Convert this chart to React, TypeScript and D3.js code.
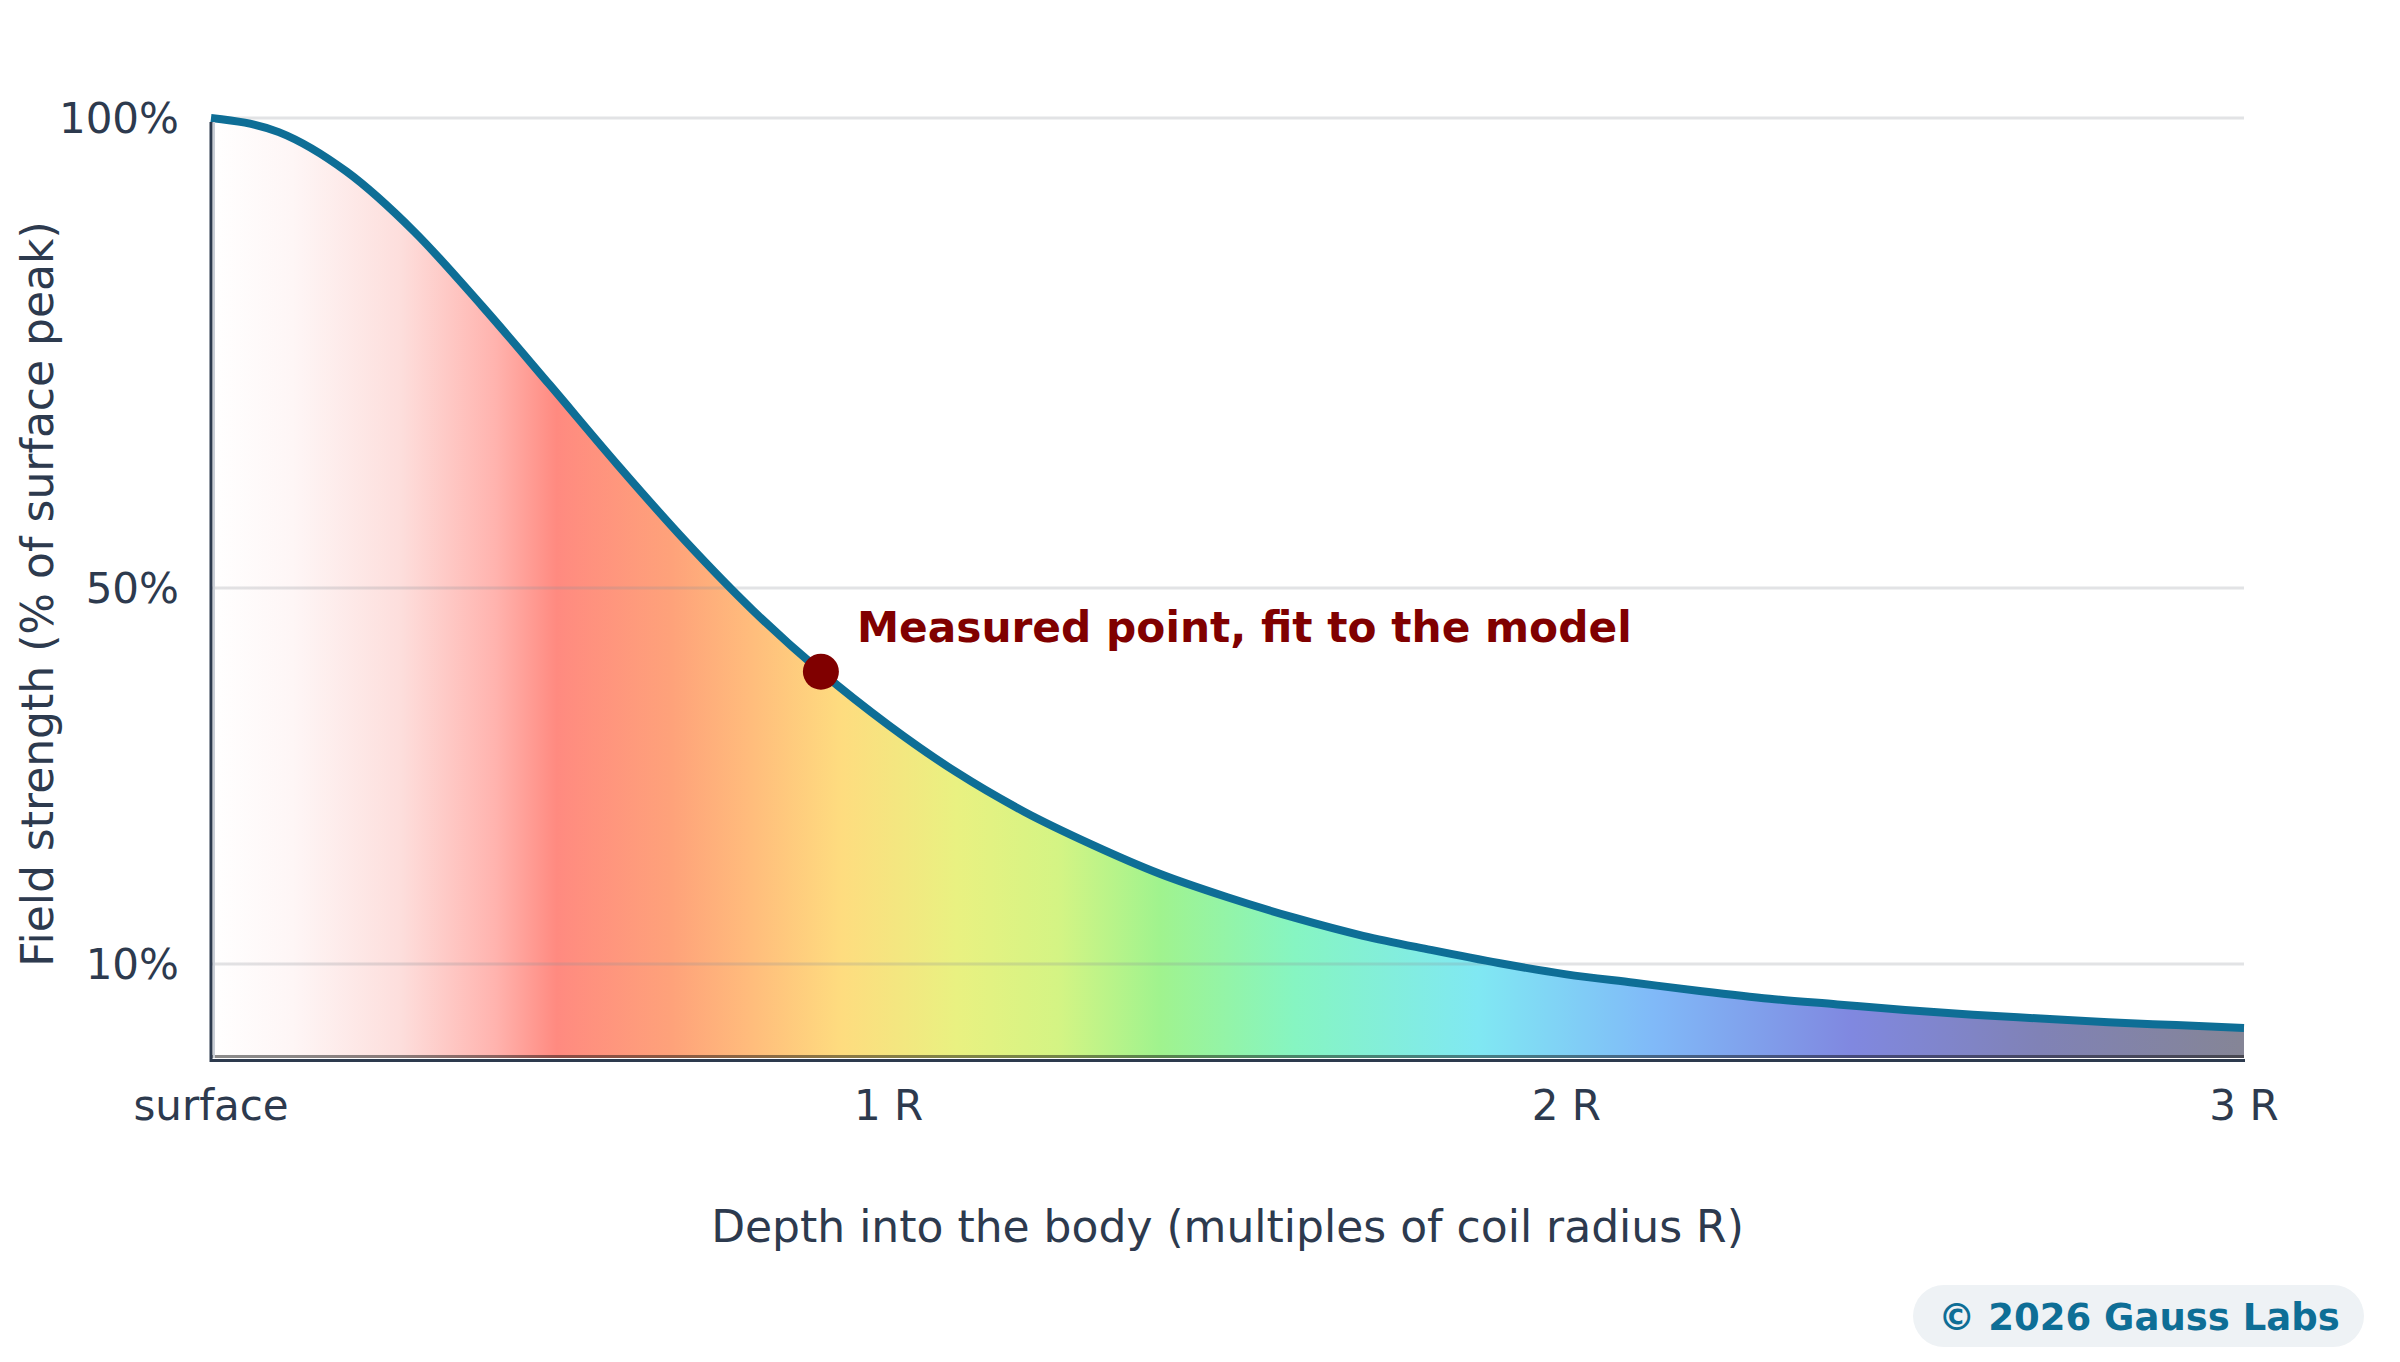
import { scaleLinear, area, line, curveMonotoneX } from 'd3';

// depth in multiples of coil radius R, field in % of surface peak
const depthR = [
  0, 0.1, 0.2, 0.3, 0.4, 0.5, 0.6, 0.7, 0.8, 0.9, 1.0, 1.1, 1.2, 1.3, 1.4, 1.5,
  1.6, 1.7, 1.8, 1.9, 2.0, 2.1, 2.2, 2.3, 2.4, 2.5, 2.6, 2.7, 2.8, 2.9, 3.0,
];
const fieldPct = [
  100, 98.5, 94.3, 87.9, 80.0, 71.6, 63.1, 55.0, 47.6, 41.1, 35.4, 30.4, 26.2,
  22.7, 19.6, 17.1, 14.9, 13.0, 11.5, 10.1, 8.9, 8.0, 7.1, 6.3, 5.7, 5.1, 4.6,
  4.2, 3.8, 3.5, 3.2,
];

const measuredDepth = [0.9];
const measuredPct = [41.1];

const xTicks = [0, 1, 2, 3];
const xTickLabels = ['surface', '1 R', '2 R', '3 R'];
const yTicks = [10, 50, 100];
const yTickLabels = ['10%', '50%', '100%'];

const WIDTH = 2400;
const HEIGHT = 1362;
const TEXT = '#2d3a4e';
const LINE = '#0e6e96';
const FONT = '"DejaVu Sans", Verdana, sans-serif';

// spectrum of the fill, keyed by depth
const spectrum: [number, string][] = [
  [0, '#ffffff'],
  [0.12, '#fef6f6'],
  [0.28, '#fddedc'],
  [0.42, '#ffb3ae'],
  [0.51, '#ff8a80'],
  [0.68, '#fea27a'],
  [0.8, '#ffbd7c'],
  [0.93, '#fedc7f'],
  [1.1, '#e9f181'],
  [1.25, '#d4f484'],
  [1.4, '#a0f38e'],
  [1.6, '#86f5c2'],
  [1.87, '#80e8f3'],
  [2.13, '#80b9f8'],
  [2.42, '#8088e0'],
  [2.7, '#8082b6'],
  [3.0, '#858596'],
];

export default function App() {
  const x = scaleLinear().domain([0, 3]).range([211, 2244]);
  const y = scaleLinear().domain([0, 100]).range([1058, 118]);

  const pts = depthR.map((d, i) => ({ d, v: fieldPct[i] }));
  const areaGen = area<{ d: number; v: number }>()
    .x(p => x(p.d))
    .y0(y(0))
    .y1(p => y(p.v))
    .curve(curveMonotoneX);
  const lineGen = line<{ d: number; v: number }>()
    .x(p => x(p.d))
    .y(p => y(p.v))
    .curve(curveMonotoneX);

  const x0 = x(0);
  const x1 = x(3);
  const base = y(0);

  return (
    <svg
      width={WIDTH}
      height={HEIGHT}
      viewBox={`0 0 ${WIDTH} ${HEIGHT}`}
      style={{ position: 'absolute', left: 0, top: 0, background: '#fff' }}
      fontFamily={FONT}
    >
      <defs>
        <linearGradient id="spec" gradientUnits="userSpaceOnUse" x1={x0} x2={x1} y1={0} y2={0}>
          {spectrum.map(([d, c], i) => (
            <stop key={i} offset={d / 3} stopColor={c} />
          ))}
        </linearGradient>
      </defs>

      <path d={areaGen(pts) ?? ''} fill="url(#spec)" />

      {/* grid over the fill */}
      {yTicks.map(t => (
        <line
          key={t}
          x1={x0}
          x2={x1}
          y1={y(t)}
          y2={y(t)}
          stroke="#8a9098"
          strokeOpacity={0.25}
          strokeWidth={3}
        />
      ))}

      {/* darker rim at the bottom of the fill */}
      <rect x={x0} y={base - 3} width={x1 - x0} height={3} fill="url(#spec)" />
      <rect x={x0} y={base - 3} width={x1 - x0} height={3} fill="#000" opacity={0.45} />

      <path d={lineGen(pts) ?? ''} fill="none" stroke={LINE} strokeWidth={8} />

      {/* axes */}
      <line x1={x0 + 3} x2={x0 + 3} y1={y(100) + 4} y2={base} stroke="#c9ced6" strokeWidth={2} />
      <line x1={x0} x2={x0} y1={y(100) + 4} y2={base + 4} stroke={TEXT} strokeWidth={3} />
      <line x1={x0} x2={x1 + 1} y1={base + 2.5} y2={base + 2.5} stroke={TEXT} strokeWidth={3} />

      {yTicks.map((t, i) => (
        <text
          key={t}
          x={179}
          y={y(t)}
          textAnchor="end"
          dominantBaseline="central"
          fontSize={42}
          fill={TEXT}
        >
          {yTickLabels[i]}
        </text>
      ))}

      {xTicks.map((t, i) => (
        <text key={t} x={x(t)} y={1120} textAnchor="middle" fontSize={42} fill={TEXT}>
          {xTickLabels[i]}
        </text>
      ))}

      <text x={(x0 + x1) / 2} y={1242} textAnchor="middle" fontSize={44} fill={TEXT}>
        Depth into the body (multiples of coil radius R)
      </text>
      <text
        transform={`translate(53, ${(y(0) + y(100)) / 2 + 6}) rotate(-90)`}
        textAnchor="middle"
        fontSize={44}
        fill={TEXT}
      >
        Field strength (% of surface peak)
      </text>

      {/* measured point */}
      {measuredDepth.map((d, i) => (
        <g key={i}>
          <circle cx={x(d)} cy={y(measuredPct[i])} r={18} fill="#800000" />
          <text
            x={x(d) + 36}
            y={y(measuredPct[i]) - 30}
            fontSize={42.3}
            fontWeight="bold"
            fill="#800000"
          >
            Measured point, fit to the model
          </text>
        </g>
      ))}

      {/* credit badge */}
      <rect x={1913} y={1285} width={451} height={62} rx={31} fill="#eef2f5" />
      <text x={2139} y={1330} textAnchor="middle" fontSize={37} fontWeight="bold" fill={LINE}>
        © 2026 Gauss Labs
      </text>
    </svg>
  );
}
